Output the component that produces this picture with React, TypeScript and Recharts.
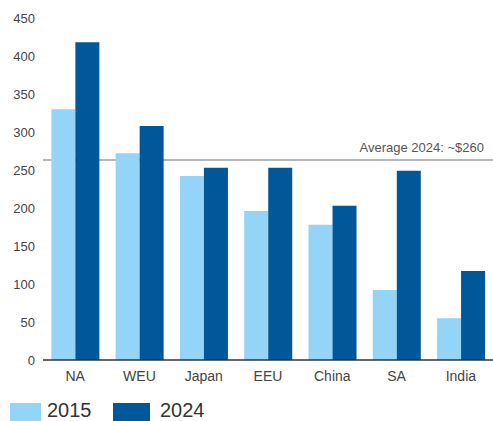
import React from "react";
import { BarChart, Bar, XAxis, YAxis, ReferenceLine, Legend, CartesianGrid } from "recharts";

const categories = ["NA", "WEU", "Japan", "EEU", "China", "SA", "India"];
const values2015 = [330, 272, 242, 196, 178, 92, 55];
const values2024 = [418, 308, 253, 253, 203, 249, 117];
const yTicks = [0, 50, 100, 150, 200, 250, 300, 350, 400, 450];
const average2024 = 263;
const averageLabel = "Average 2024: ~$260";

const data = categories.map((c, i) => ({ name: c, y2015: values2015[i], y2024: values2024[i] }));

const LIGHT = "#94D4F6";
const DARK = "#00579A";
const FONT = "'Liberation Sans', Arial, sans-serif";

const LegendContent = () => (
  <div style={{ position: "relative", height: 24, fontFamily: FONT }}>
    <div style={{ position: "absolute", left: 10, top: 6, width: 31, height: 20, background: LIGHT }} />
    <div style={{ position: "absolute", left: 47, top: 1, fontSize: 20, color: "#333", lineHeight: "24px" }}>2015</div>
    <div style={{ position: "absolute", left: 113, top: 6, width: 37, height: 20, background: DARK }} />
    <div style={{ position: "absolute", left: 160, top: 1, fontSize: 20, color: "#333", lineHeight: "24px" }}>2024</div>
  </div>
);

export default function App() {
  return (
    <div style={{ position: "absolute", left: 0, top: 0, width: 493, height: 421, background: "#fff", overflow: "hidden" }}>
      <BarChart
        width={493}
        height={421}
        data={data}
        margin={{ top: 18, right: 0, left: 0, bottom: 7 }}
        barCategoryGap="13%"
        barGap={0}
      >
        <CartesianGrid vertical={false} horizontalValues={[average2024]} stroke="#a0a0a0" strokeWidth={1.5} />
        <YAxis
          width={43}
          domain={[0, 450]}
          ticks={yTicks}
          axisLine={false}
          tickLine={false}
          tickSize={0}
          tickMargin={8}
          tick={{ fill: "#444", fontSize: 13, fontFamily: FONT }}
          interval={0}
        />
        <XAxis
          dataKey="name"
          height={30}
          axisLine={{ stroke: "#333", strokeWidth: 1.5 }}
          tickLine={false}
          tickSize={0}
          tickMargin={11}
          tick={{ fill: "#444", fontSize: 14, fontFamily: FONT }}
          interval={0}
        />
        <ReferenceLine
          y={average2024}
          stroke="#a0a0a0"
          strokeOpacity={0}
          label={{ value: averageLabel, position: "insideTopRight", fill: "#555", fontSize: 13, fontFamily: FONT, dy: -22, dx: -4 }}
        />
        <Bar dataKey="y2015" fill={LIGHT} isAnimationActive={false} />
        <Bar dataKey="y2024" fill={DARK} isAnimationActive={false} />
        <Legend verticalAlign="bottom" align="left" height={24} content={<LegendContent />} wrapperStyle={{ left: 0, bottom: 0, width: 493 }} />
      </BarChart>
    </div>
  );
}
